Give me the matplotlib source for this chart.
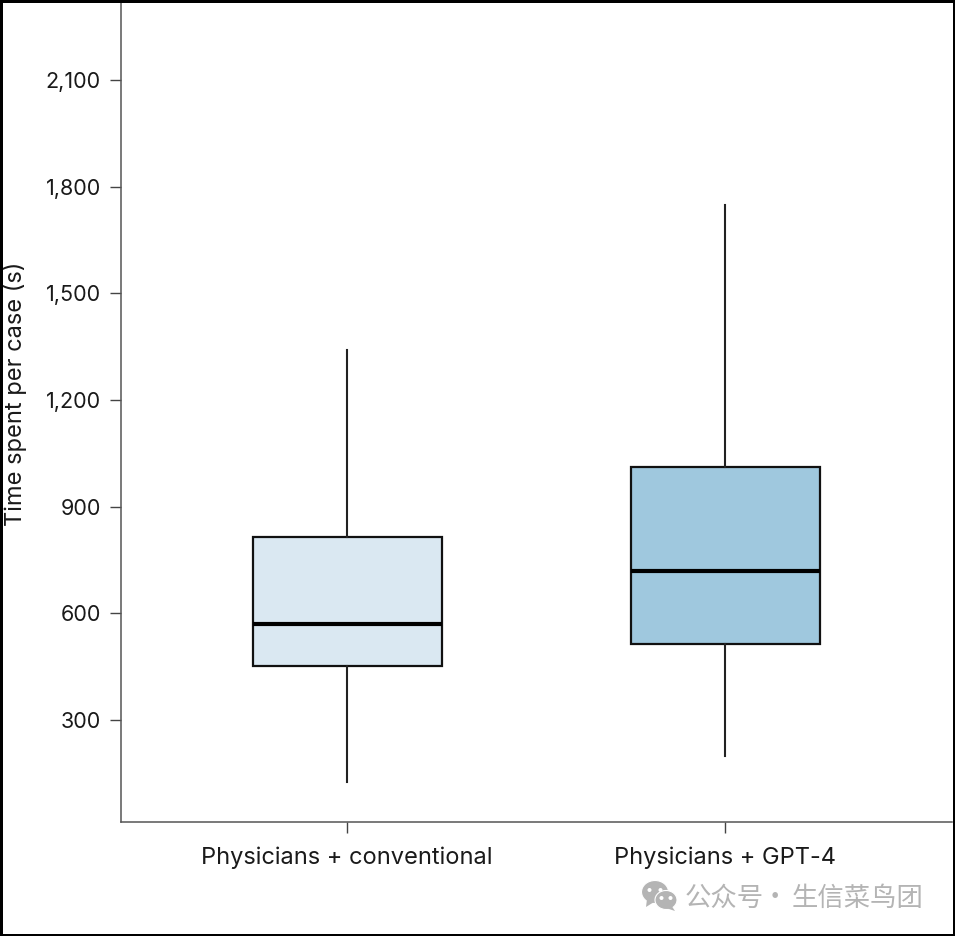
import matplotlib
matplotlib.use("Agg")
import matplotlib.pyplot as plt
from matplotlib.patches import Ellipse, Rectangle, Polygon

groups = ["Physicians + conventional", "Physicians + GPT-4"]
whisker_low = [126, 199]
q1 = [453, 515]
median = [571, 720]
q3 = [815, 1011]
whisker_high = [1340, 1748]
box_colors = ["#dae8f2", "#9fc8de"]
y_ticks = [300, 600, 900, 1200, 1500, 1800, 2100]

W, H = 955, 936
plt.rcParams["font.family"] = ["Inter", "DejaVu Sans"]

fig = plt.figure(figsize=(W / 100, H / 100), dpi=100, facecolor="white")
ax = fig.add_axes([121 / W, 1 - 822 / H, (951.5 - 121) / W, (822 - 1) / H])

stats = []
for i, name in enumerate(groups):
    stats.append({"label": name, "whislo": whisker_low[i], "q1": q1[i], "med": median[i],
                  "q3": q3[i], "whishi": whisker_high[i], "fliers": []})

bp = ax.bxp(stats, positions=[1, 2], widths=0.5, patch_artist=True, showcaps=False, showfliers=False,
            boxprops=dict(edgecolor="#111111", linewidth=1.6),
            whiskerprops=dict(color="#222222", linewidth=1.5),
            medianprops=dict(color="black", linewidth=3.0, solid_capstyle="butt"))
for box, c in zip(bp["boxes"], box_colors):
    box.set_facecolor(c)

ax.set_xlim(0.402, 2.599)
ax.set_ylim(13, 2322)
ax.set_yticks(y_ticks)
ax.set_yticklabels([f"{v:,}" for v in y_ticks])
ax.set_ylabel("Time spent per case (s)", fontsize=17, color="#1a1a1a")
ax.yaxis.set_label_coords(-0.1135, 0.522)
ax.tick_params(axis="both", length=8, width=1.0, color="#444444", labelcolor="#1a1a1a")
ax.tick_params(axis="y", pad=6.5, labelsize=15.5)
ax.tick_params(axis="x", pad=9.7, labelsize=17)
ax.spines["top"].set_visible(False)
ax.spines["right"].set_visible(False)
for s in ["left", "bottom"]:
    ax.spines[s].set_linewidth(1.1)
    ax.spines[s].set_color("#555555")

# watermark
gray = "#b4b4b4"
cjk = ["Noto Sans CJK SC", "DejaVu Sans"]
def px(x, y):
    return x / W, 1 - y / H
def bubble(cx, cy, w, h, tail, eye_dx):
    x, y = px(cx, cy)
    fig.add_artist(Ellipse((x, y), w / W, h / H, facecolor=gray, edgecolor="white", linewidth=0.8,
                           transform=fig.transFigure))
    fig.add_artist(Polygon([px(*p) for p in tail], facecolor=gray, edgecolor="none", transform=fig.transFigure))
    for dx in (-eye_dx, eye_dx):
        ex, ey = px(cx + dx, cy - 2)
        fig.add_artist(Ellipse((ex, ey), 4 / W, 4 / H, facecolor="white", edgecolor="none",
                               transform=fig.transFigure))
bubble(655, 892, 27, 23, [(647, 899), (646, 907), (654, 902)], 5.5)
bubble(666, 900, 22, 19, [(671, 905), (675, 911), (666, 908)], 4.5)
x, y = px(685, 898)
fig.text(x, y, "公众号", fontsize=19, color=gray, va="center", ha="left", family=cjk)
x, y = px(775, 898)
fig.text(x, y, "·", fontsize=19, color=gray, va="center", ha="center", family=cjk)
x, y = px(792, 898)
fig.text(x, y, "生信菜鸟团", fontsize=19, color=gray, va="center", ha="left", family=cjk)

# black frame around the picture
fig.add_artist(Rectangle((0, 0), 1, 1, transform=fig.transFigure, fill=False,
                         edgecolor="black", linewidth=3.6))

fig.savefig("out.png", dpi=100)
